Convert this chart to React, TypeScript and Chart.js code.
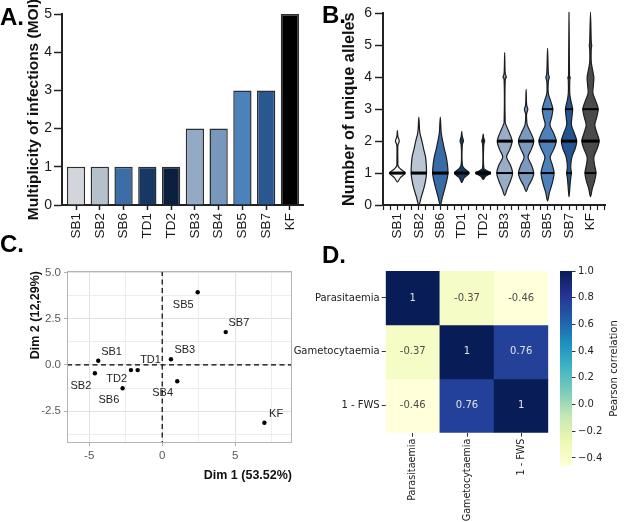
import React, { useEffect, useRef } from "react";
import { Chart, registerables } from "chart.js";
Chart.register(...registerables);

// ---------------- DATA ----------------
const categories = ["SB1", "SB2", "SB6", "TD1", "TD2", "SB3", "SB4", "SB5", "SB7", "KF"];
const moiValues = [1, 1, 1, 1, 1, 2, 2, 3, 3, 5];
const moiColors = ["#d2d6dc", "#b5c0cd", "#3b6ea6", "#163863", "#0b203e", "#93a9c4", "#7797bd", "#4b82bb", "#28588f", "#000000"];

const violinColors = ["#f5f5f5", "#b9c5d5", "#386ca6", "#163a65", "#0a1e3c", "#97adc8", "#7b9abf", "#4b82bd", "#235690", "#4a4a4a"];
// [number of alleles, half-width of the violin in category units]
const violinSB1 = [[0.72, 0], [0.85, 0.12], [1, 0.32], [1.12, 0.14], [1.22, 0.03], [1.4, 0.02], [1.85, 0.02], [2, 0.08], [2.15, 0.02], [2.33, 0]];
const violinSB2 = [[0, 0], [0.25, 0.1], [0.55, 0.22], [0.8, 0.29], [1, 0.32], [1.25, 0.31], [1.5, 0.28], [1.75, 0.2], [2, 0.13], [2.2, 0.06], [2.35, 0.03], [2.75, 0]];
const violinSB6 = [[0, 0], [0.25, 0.09], [0.55, 0.2], [0.8, 0.28], [1, 0.32], [1.25, 0.3], [1.5, 0.25], [1.75, 0.17], [2, 0.1], [2.2, 0.05], [2.35, 0.03], [2.75, 0]];
const violinTD1 = [[0.7, 0], [0.85, 0.1], [1, 0.3], [1.15, 0.1], [1.3, 0.02], [1.85, 0.02], [2, 0.07], [2.15, 0.02], [2.3, 0]];
const violinTD2 = [[0.8, 0], [0.9, 0.1], [1, 0.31], [1.1, 0.1], [1.2, 0.02], [1.85, 0.02], [2, 0.06], [2.1, 0.02], [2.22, 0]];
const violinSB3 = [[0.3, 0], [0.5, 0.1], [0.75, 0.24], [1, 0.33], [1.25, 0.24], [1.5, 0.08], [1.75, 0.22], [2, 0.31], [2.25, 0.2], [2.5, 0.06], [2.7, 0.02], [3.85, 0.02], [4, 0.07], [4.15, 0.02], [4.77, 0]];
const violinSB4 = [[0.42, 0], [0.6, 0.1], [0.8, 0.24], [1, 0.32], [1.25, 0.22], [1.5, 0.08], [1.75, 0.22], [2, 0.32], [2.25, 0.2], [2.5, 0.05], [2.7, 0.02], [2.85, 0.02], [3, 0.07], [3.15, 0.02], [3.62, 0]];
const violinSB5 = [[0.13, 0], [0.4, 0.08], [0.7, 0.2], [1, 0.27], [1.25, 0.2], [1.5, 0.11], [1.75, 0.26], [2, 0.36], [2.25, 0.25], [2.5, 0.1], [2.75, 0.17], [3, 0.22], [3.25, 0.13], [3.5, 0.03], [3.85, 0.03], [4, 0.07], [4.15, 0.03], [4.9, 0]];
const violinSB7 = [[0.26, 0], [0.6, 0.04], [0.85, 0.07], [1, 0.1], [1.2, 0.07], [1.5, 0.12], [1.75, 0.25], [2, 0.32], [2.25, 0.22], [2.5, 0.1], [2.75, 0.12], [3, 0.15], [3.25, 0.08], [3.5, 0.03], [3.9, 0.03], [4, 0.05], [4.1, 0.02], [6.03, 0]];
const violinKF = [[0.26, 0], [0.5, 0.07], [0.75, 0.17], [1, 0.23], [1.25, 0.17], [1.5, 0.14], [1.75, 0.27], [2, 0.36], [2.25, 0.27], [2.5, 0.18], [2.75, 0.26], [3, 0.32], [3.25, 0.22], [3.5, 0.1], [3.75, 0.12], [4, 0.14], [4.25, 0.08], [4.5, 0.03], [4.85, 0.03], [5, 0.05], [5.15, 0.03], [6.03, 0]];
const violinShapes = [violinSB1, violinSB2, violinSB6, violinTD1, violinTD2, violinSB3, violinSB4, violinSB5, violinSB7, violinKF];
const violinQ1 = [1, 1, 1, 1, 1, 1, 1, 1, 1, 1];
const violinMedian = [1, 1, 1, 1, 1, 2, 2, 2, 2, 2];
const violinQ3 = [1, 1, 1, 1, 1, 2, 2, 3, 3, 3];

const pcaNames = ["SB1", "SB2", "SB6", "TD1", "TD2", "SB3", "SB4", "SB5", "SB7", "KF"];
const pcaX = [-4.38, -4.61, -2.71, -1.68, -2.14, 0.6, 1.03, 2.43, 4.35, 7.0];
const pcaY = [0.23, -0.45, -1.26, -0.28, -0.28, 0.31, -0.88, 3.94, 1.78, -3.13];
const pcaLabelX = [-3.47, -5.57, -3.65, -0.8, -3.12, 1.55, 0.03, 1.44, 5.25, 7.8];
const pcaLabelY = [0.72, -1.14, -1.9, 0.27, -0.76, 0.81, -1.53, 3.25, 2.26, -2.67];
const pcaXTicks = [-5, -2.5, 0, 2.5, 5, 7.5];
const pcaXLabelled = [-5, 0, 5];
const pcaYTicks = [-3.75, -2.5, -1.25, 0, 1.25, 2.5, 3.75, 5];
const pcaYLabelled = [-2.5, 0, 2.5, 5];

const corrVars = ["Parasitaemia", "Gametocytaemia", "1 - FWS"];
const corrParasitaemia = [1, -0.37, -0.46];
const corrGametocytaemia = [-0.37, 1, 0.76];
const corrFws = [-0.46, 0.76, 1];
const corrRows = [corrParasitaemia, corrGametocytaemia, corrFws];
const colorbarTicks = [-0.4, -0.2, 0, 0.2, 0.4, 0.6, 0.8, 1.0];
const colorMin = -0.46;
const colorMax = 1;
const ylgnbu = ["#ffffd9", "#edf8b1", "#c7e9b4", "#7fcdbb", "#41b6c4", "#1d91c0", "#225ea8", "#253494", "#081d58"];

// ---------------- HELPERS ----------------
const ARIAL = "'Liberation Sans', Arial, Helvetica, sans-serif";
const DEJAVU = "'DejaVu Sans', Verdana, sans-serif";
const VIOLIN_SCALE = 1.12;

function hexToRgb(h: string) {
  const n = parseInt(h.slice(1), 16);
  return [(n >> 16) & 255, (n >> 8) & 255, n & 255];
}
function cmap(v: number) {
  let t = (v - colorMin) / (colorMax - colorMin);
  t = Math.max(0, Math.min(1, t));
  const pos = t * (ylgnbu.length - 1);
  const i = Math.min(ylgnbu.length - 2, Math.floor(pos));
  const f = pos - i;
  const a = hexToRgb(ylgnbu[i]);
  const b = hexToRgb(ylgnbu[i + 1]);
  const c = a.map((x, k) => Math.round(x + (b[k] - x) * f));
  return `rgb(${c[0]},${c[1]},${c[2]})`;
}
function widthAt(shape: number[][], v: number) {
  for (let k = 0; k < shape.length - 1; k++) {
    const [v0, w0] = shape[k];
    const [v1, w1] = shape[k + 1];
    if (v >= v0 && v <= v1) return w0 + ((w1 - w0) * (v - v0)) / (v1 - v0 || 1);
  }
  return 0;
}
const isInt = (v: number) => Math.abs(v - Math.round(v)) < 1e-6;

function smoothClosed(ctx: CanvasRenderingContext2D, pts: number[][]) {
  const n = pts.length;
  ctx.moveTo(pts[0][0], pts[0][1]);
  for (let i = 0; i < n; i++) {
    const p0 = pts[(i - 1 + n) % n];
    const p1 = pts[i];
    const p2 = pts[(i + 1) % n];
    const p3 = pts[(i + 2) % n];
    const t = 1 / 6;
    ctx.bezierCurveTo(
      p1[0] + (p2[0] - p0[0]) * t,
      p1[1] + (p2[1] - p0[1]) * t,
      p2[0] - (p3[0] - p1[0]) * t,
      p2[1] - (p3[1] - p1[1]) * t,
      p2[0],
      p2[1]
    );
  }
  ctx.closePath();
}

const baseOpts = {
  animation: false,
  responsive: false,
  devicePixelRatio: 1,
  events: [],
};
const noPlugins = { legend: { display: false }, tooltip: { enabled: false } };

// ---------------- PLUGINS ----------------
const violinPlugin = {
  id: "violins",
  afterDatasetsDraw(chart: any) {
    const { ctx } = chart;
    const xs = chart.scales.x;
    const ys = chart.scales.y;
    violinShapes.forEach((shape, i) => {
      const right = shape.map(([v, w]) => [xs.getPixelForValue(i + w * VIOLIN_SCALE), ys.getPixelForValue(v)]);
      const left = shape
        .slice(1, shape.length - 1)
        .reverse()
        .map(([v, w]) => [xs.getPixelForValue(i - w * VIOLIN_SCALE), ys.getPixelForValue(v)]);
      const pts = right.concat(left);
      ctx.save();
      ctx.beginPath();
      smoothClosed(ctx, pts);
      ctx.fillStyle = violinColors[i];
      ctx.fill();
      ctx.lineJoin = "round";
      ctx.lineWidth = 1.2;
      ctx.strokeStyle = "#1e1e1e";
      ctx.stroke();
      const lines = [
        [violinQ1[i], 2],
        [violinQ3[i], 2],
        [violinMedian[i], 3],
      ];
      lines.forEach(([v, lw]) => {
        const hw = widthAt(shape, v) * VIOLIN_SCALE + 0.01;
        ctx.beginPath();
        ctx.lineWidth = lw;
        ctx.strokeStyle = "#000";
        ctx.moveTo(xs.getPixelForValue(i - hw), ys.getPixelForValue(v));
        ctx.lineTo(xs.getPixelForValue(i + hw), ys.getPixelForValue(v));
        ctx.stroke();
      });
      ctx.restore();
    });
  },
};

const pcaPlugin = {
  id: "pcaDecor",
  beforeDatasetsDraw(chart: any) {
    const { ctx, chartArea: a } = chart;
    const xs = chart.scales.x;
    const ys = chart.scales.y;
    ctx.save();
    ctx.strokeStyle = "#000";
    ctx.lineWidth = 1.2;
    ctx.setLineDash([5, 3.5]);
    const x0 = xs.getPixelForValue(0);
    const y0 = ys.getPixelForValue(0);
    ctx.beginPath();
    ctx.moveTo(x0, a.top);
    ctx.lineTo(x0, a.bottom);
    ctx.moveTo(a.left, y0);
    ctx.lineTo(a.right, y0);
    ctx.stroke();
    ctx.setLineDash([]);
    ctx.strokeStyle = "#b3b3b3";
    ctx.lineWidth = 1;
    ctx.strokeRect(a.left + 0.5, a.top + 0.5, a.right - a.left - 1, a.bottom - a.top - 1);
    ctx.restore();
  },
  afterDatasetsDraw(chart: any) {
    const { ctx } = chart;
    const xs = chart.scales.x;
    const ys = chart.scales.y;
    ctx.save();
    ctx.font = `11px ${ARIAL}`;
    ctx.fillStyle = "#222";
    ctx.textAlign = "center";
    ctx.textBaseline = "middle";
    pcaNames.forEach((n, i) => {
      ctx.fillText(n, xs.getPixelForValue(pcaLabelX[i]), ys.getPixelForValue(pcaLabelY[i]));
    });
    ctx.restore();
  },
};

const heatTextPlugin = {
  id: "heatText",
  afterDatasetsDraw(chart: any) {
    const { ctx } = chart;
    ctx.save();
    ctx.font = `10px ${DEJAVU}`;
    ctx.textAlign = "center";
    ctx.textBaseline = "middle";
    corrRows.forEach((row, r) => {
      const meta = chart.getDatasetMeta(r);
      row.forEach((v, c) => {
        const el = meta.data[c];
        const cy = (el.y + el.base) / 2;
        ctx.fillStyle = v > 0.5 ? "#e2e2e2" : "#4d4d4d";
        ctx.fillText(String(v), el.x, cy);
      });
    });
    ctx.restore();
  },
};

const colorbarLabelPlugin = {
  id: "cbLabel",
  afterDraw(chart: any) {
    const { ctx, chartArea: a } = chart;
    ctx.save();
    ctx.font = `10px ${DEJAVU}`;
    ctx.fillStyle = "#222";
    ctx.textAlign = "center";
    ctx.textBaseline = "middle";
    ctx.translate(614, (a.top + a.bottom) / 2);
    ctx.rotate(-Math.PI / 2);
    ctx.fillText("Pearson correlation", 0, 0);
    ctx.restore();
  },
};

// ---------------- CONFIGS ----------------
const prismAxis = {
  grid: { display: true, drawOnChartArea: false, drawTicks: true, tickColor: "#222", tickWidth: 1.5, offset: false },
  border: { display: true, color: "#222", width: 2 },
};

function configA(): any {
  return {
    type: "bar",
    data: {
      datasets: [
        {
          data: categories.map((c, i) => ({ x: i, y: moiValues[i] })),
          backgroundColor: moiColors,
          borderColor: "#2e2e2e",
          borderWidth: 1.5,
          categoryPercentage: 1,
          barPercentage: 0.77,
        },
      ],
    },
    options: {
      ...baseOpts,
      layout: { padding: { left: 24.7, top: 14, right: 321, bottom: 277 } },
      plugins: noPlugins,
      scales: {
        x: {
          type: "linear",
          min: -0.59,
          max: 9.55,
          offset: false,
          afterBuildTicks: (s: any) => {
            s.ticks = categories.map((_, i) => ({ value: i }));
          },
          afterFit: (s: any) => {
            s.height = 40;
          },
          ticks: {
            autoSkip: false,
            minRotation: 90,
            maxRotation: 90,
            padding: 3,
            color: "#1a1a1a",
            font: { family: ARIAL, size: 13.5 },
            callback: (v: number) => categories[Math.round(v)] ?? "",
          },
          ...prismAxis,
          grid: { ...prismAxis.grid, tickLength: 5 },
        },
        y: {
          min: 0,
          max: 5,
          afterFit: (s: any) => {
            s.width = 37.3;
          },
          ticks: { stepSize: 1, padding: 2, color: "#1a1a1a", font: { family: ARIAL, size: 14 } },
          ...prismAxis,
          grid: { ...prismAxis.grid, tickLength: 8 },
          title: {
            display: true,
            text: "Multiplicity of infections (MOI)",
            color: "#111",
            padding: 0,
            font: { family: ARIAL, size: 15.5, weight: "bold" },
          },
        },
      },
    },
  };
}

function configB(): any {
  const thirds: number[] = [];
  for (let k = -2; k <= 29; k++) thirds.push(k / 3);
  return {
    type: "scatter",
    data: {
      datasets: [
        {
          data: categories.map((c, i) => ({ x: i, y: violinMedian[i] })),
          pointRadius: 0,
        },
      ],
    },
    options: {
      ...baseOpts,
      layout: { padding: { left: 340.2, top: 13.3, right: 1, bottom: 277 } },
      plugins: noPlugins,
      scales: {
        x: {
          type: "linear",
          min: -0.67,
          max: 9.7,
          afterBuildTicks: (s: any) => {
            s.ticks = thirds.map((v) => ({ value: v }));
          },
          afterFit: (s: any) => {
            s.height = 40;
          },
          ticks: {
            autoSkip: false,
            minRotation: 90,
            maxRotation: 90,
            padding: 3,
            color: "#1a1a1a",
            font: { family: ARIAL, size: 13.5 },
            callback: (v: number) => (isInt(v) && v >= 0 ? categories[Math.round(v)] ?? "" : ""),
          },
          ...prismAxis,
          grid: { ...prismAxis.grid, tickLength: 5, tickWidth: 1.2 },
        },
        y: {
          min: 0,
          max: 6,
          afterFit: (s: any) => {
            s.width = 42.8;
          },
          ticks: { stepSize: 1, padding: 3, color: "#1a1a1a", font: { family: ARIAL, size: 14 } },
          ...prismAxis,
          grid: { ...prismAxis.grid, tickLength: 8 },
          title: {
            display: true,
            text: "Number of unique alleles",
            color: "#111",
            padding: 0,
            font: { family: ARIAL, size: 16.3, weight: "bold" },
          },
        },
      },
    },
    plugins: [violinPlugin],
  };
}

function configC(): any {
  return {
    type: "scatter",
    data: {
      datasets: [
        {
          data: pcaNames.map((n, i) => ({ x: pcaX[i], y: pcaY[i] })),
          pointRadius: 2.2,
          pointBackgroundColor: "#000",
          pointBorderWidth: 0,
        },
      ],
    },
    options: {
      ...baseOpts,
      layout: { padding: { left: 27.8, top: 271, right: 332, bottom: 39 } },
      plugins: noPlugins,
      scales: {
        x: {
          type: "linear",
          min: -6.52,
          max: 8.89,
          afterBuildTicks: (s: any) => {
            s.ticks = pcaXTicks.map((v) => ({ value: v }));
          },
          afterFit: (s: any) => {
            s.height = 40;
          },
          ticks: {
            autoSkip: false,
            maxRotation: 0,
            padding: 3,
            color: "#5a5a5a",
            font: { family: ARIAL, size: 11.5 },
            callback: (v: number) => (pcaXLabelled.includes(v) ? String(v) : ""),
          },
          grid: {
            color: (c: any) => (c.tick && pcaXLabelled.includes(c.tick.value) ? "#e2e2e2" : "#ededed"),
            tickColor: (c: any) => (c.tick && pcaXLabelled.includes(c.tick.value) ? "#b0b0b0" : "rgba(0,0,0,0)"),
            tickLength: 3,
            lineWidth: 1,
          },
          border: { display: false },
          title: {
            display: true,
            text: "Dim 1 (53.52%)",
            align: "end",
            color: "#111",
            padding: 0,
            font: { family: ARIAL, size: 12.5, weight: "bold" },
          },
        },
        y: {
          type: "linear",
          min: -4.23,
          max: 5.09,
          afterBuildTicks: (s: any) => {
            s.ticks = pcaYTicks.map((v) => ({ value: v }));
          },
          afterFit: (s: any) => {
            s.width = 39.2;
          },
          ticks: {
            autoSkip: false,
            padding: 3,
            color: "#5a5a5a",
            font: { family: ARIAL, size: 11.5 },
            callback: (v: number) => (pcaYLabelled.includes(v) ? v.toFixed(1) : ""),
          },
          grid: {
            color: (c: any) => (c.tick && pcaYLabelled.includes(c.tick.value) ? "#e2e2e2" : "#ededed"),
            tickColor: (c: any) => (c.tick && pcaYLabelled.includes(c.tick.value) ? "#b0b0b0" : "rgba(0,0,0,0)"),
            tickLength: 3,
            lineWidth: 1,
          },
          border: { display: false },
          title: {
            display: true,
            text: "Dim 2 (12,29%)",
            align: "end",
            color: "#111",
            padding: 0,
            font: { family: ARIAL, size: 12.5, weight: "bold" },
          },
        },
      },
    },
    plugins: [pcaPlugin],
  };
}

function configD(): any {
  return {
    type: "bar",
    data: {
      labels: corrVars,
      datasets: corrRows.map((row, r) => ({
        data: row.map(() => [r, r + 1]),
        backgroundColor: row.map((v) => cmap(v)),
        borderWidth: 0,
        barPercentage: 1,
        categoryPercentage: 1,
        grouped: false,
      })),
    },
    options: {
      ...baseOpts,
      layout: { padding: { left: 290, top: 271, right: 75.7, bottom: 0 } },
      plugins: noPlugins,
      scales: {
        x: {
          afterFit: (s: any) => {
            s.height = 89.3;
          },
          ticks: {
            autoSkip: false,
            minRotation: 90,
            maxRotation: 90,
            padding: 2,
            color: "#222",
            font: { family: DEJAVU, size: 9.6 },
          },
          grid: { display: true, drawOnChartArea: false, drawTicks: true, tickLength: 4, tickColor: "#333", tickWidth: 1, offset: false },
          border: { display: false },
        },
        y: {
          min: 0,
          max: 3,
          reverse: true,
          afterBuildTicks: (s: any) => {
            s.ticks = corrVars.map((_, i) => ({ value: i + 0.5 }));
          },
          afterFit: (s: any) => {
            s.width = 95.7;
          },
          ticks: {
            autoSkip: false,
            padding: 2,
            color: "#222",
            font: { family: DEJAVU, size: 10 },
            callback: (v: number) => corrVars[Math.floor(v)] ?? "",
          },
          grid: { display: true, drawOnChartArea: false, drawTicks: true, tickLength: 4, tickColor: "#333", tickWidth: 1 },
          border: { display: false },
        },
      },
    },
    plugins: [heatTextPlugin],
  };
}

function configColorbar(): any {
  return {
    type: "bar",
    data: {
      labels: [""],
      datasets: [
        {
          data: [[colorMin, colorMax]],
          backgroundColor: (c: any) => {
            const chart = c.chart;
            const ys = chart.scales && chart.scales.y;
            if (!ys || !chart.chartArea) return ylgnbu[4];
            const g = chart.ctx.createLinearGradient(0, ys.getPixelForValue(colorMin), 0, ys.getPixelForValue(colorMax));
            ylgnbu.forEach((col, k) => g.addColorStop(k / (ylgnbu.length - 1), col));
            return g;
          },
          borderWidth: 0,
          barPercentage: 1,
          categoryPercentage: 1,
        },
      ],
    },
    options: {
      ...baseOpts,
      layout: { padding: { left: 560, top: 271, right: 0, bottom: 56 } },
      plugins: noPlugins,
      scales: {
        x: { display: false },
        y: {
          position: "right",
          min: colorMin,
          max: colorMax,
          afterBuildTicks: (s: any) => {
            s.ticks = colorbarTicks.map((v) => ({ value: v }));
          },
          afterFit: (s: any) => {
            s.width = 52;
          },
          ticks: {
            autoSkip: false,
            padding: 2.5,
            color: "#222",
            font: { family: DEJAVU, size: 10 },
            callback: (v: number) => (v < -1e-9 ? "\u2212" + Math.abs(v).toFixed(1) : Math.abs(v).toFixed(1)),
          },
          grid: { display: true, drawOnChartArea: false, drawTicks: true, tickLength: 3.5, tickColor: "#333", tickWidth: 1 },
          border: { display: false },
        },
      },
    },
    plugins: [colorbarLabelPlugin],
  };
}

// ---------------- COMPONENT ----------------
const panelLabel = (left: number, top: number): React.CSSProperties => ({
  position: "absolute",
  left,
  top,
  font: `bold 24px ${ARIAL}`,
  lineHeight: "24px",
  color: "#000",
});

export default function App() {
  const refA = useRef<HTMLCanvasElement>(null);
  const refB = useRef<HTMLCanvasElement>(null);
  const refC = useRef<HTMLCanvasElement>(null);
  const refD = useRef<HTMLCanvasElement>(null);
  const refE = useRef<HTMLCanvasElement>(null);

  useEffect(() => {
    const charts = [
      new Chart(refA.current as HTMLCanvasElement, configA()),
      new Chart(refB.current as HTMLCanvasElement, configB()),
      new Chart(refC.current as HTMLCanvasElement, configC()),
      new Chart(refD.current as HTMLCanvasElement, configD()),
      new Chart(refE.current as HTMLCanvasElement, configColorbar()),
    ];
    return () => charts.forEach((c) => c.destroy());
  }, []);

  const cs: React.CSSProperties = { position: "absolute", left: 0, top: 0, width: 624, height: 522 };
  return (
    <div style={{ position: "absolute", left: 0, top: 0, width: 624, height: 522, background: "#fff", overflow: "hidden" }}>
      <canvas ref={refA} width={624} height={522} style={cs} />
      <canvas ref={refB} width={624} height={522} style={cs} />
      <canvas ref={refC} width={624} height={522} style={cs} />
      <canvas ref={refD} width={624} height={522} style={cs} />
      <canvas ref={refE} width={624} height={522} style={cs} />
      <div style={panelLabel(0, 5)}>A.</div>
      <div style={panelLabel(322, 3)}>B.</div>
      <div style={panelLabel(0, 232)}>C.</div>
      <div style={panelLabel(322, 243)}>D.</div>
    </div>
  );
}
